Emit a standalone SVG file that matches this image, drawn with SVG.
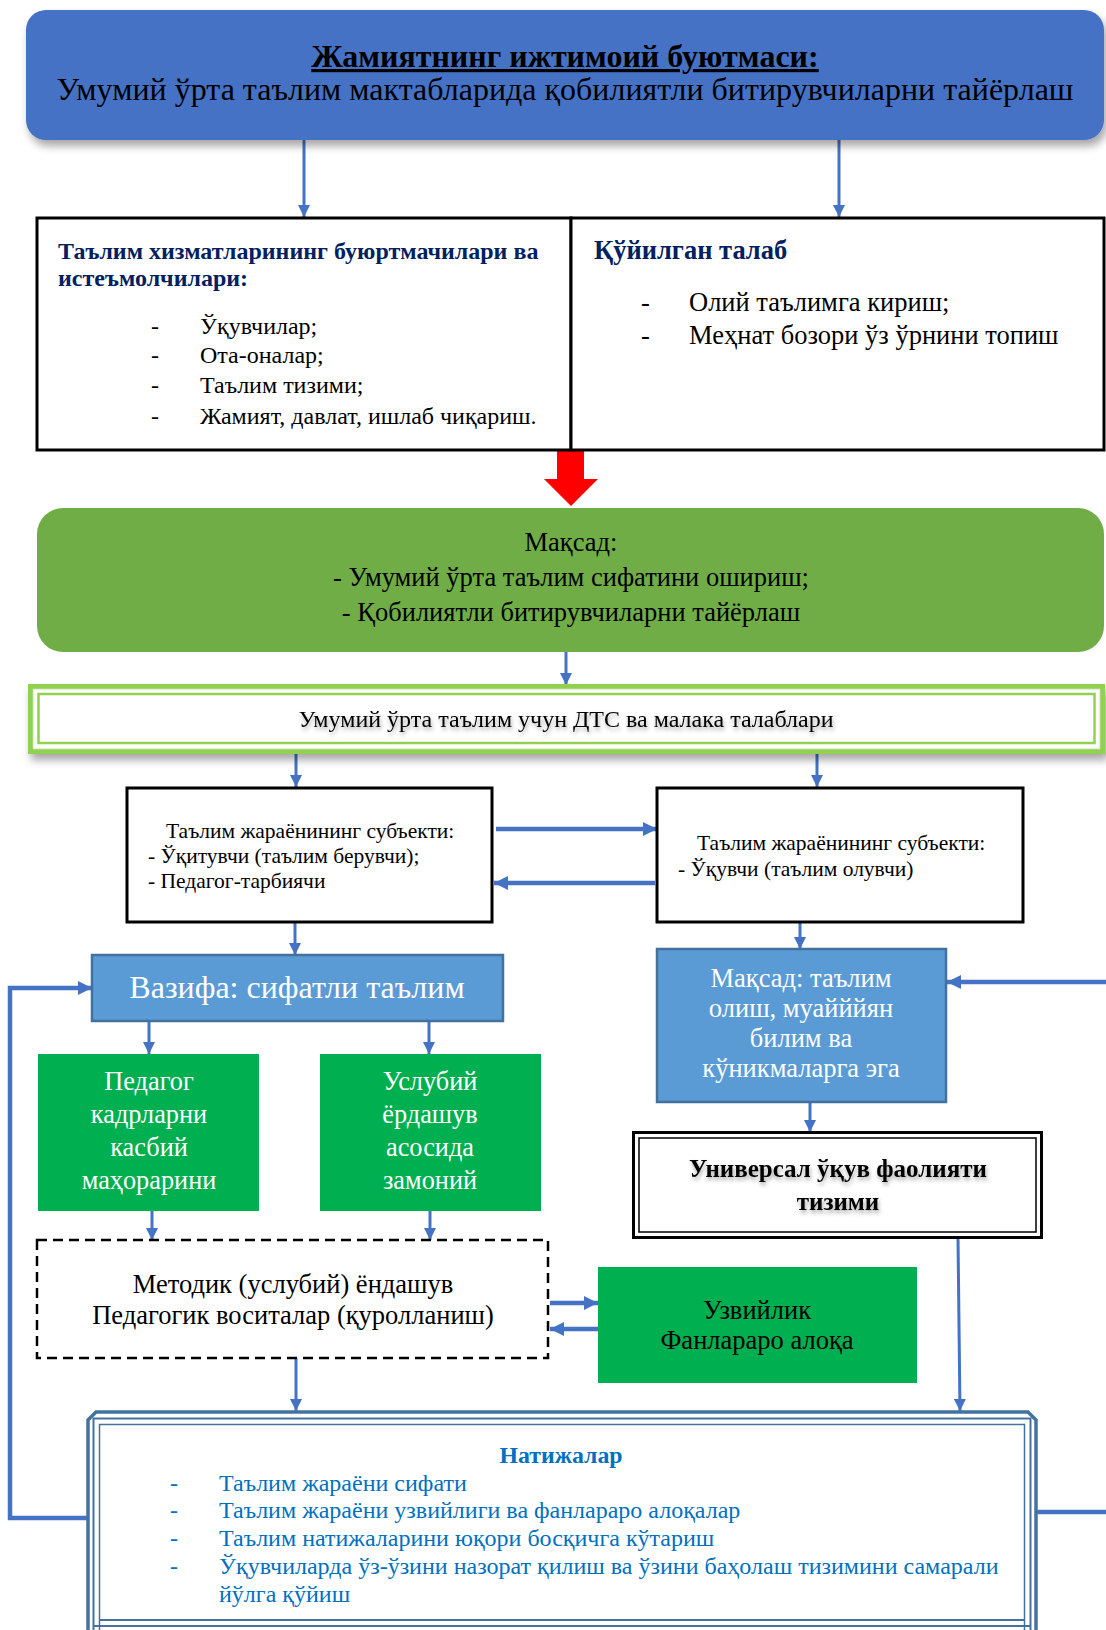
<svg xmlns="http://www.w3.org/2000/svg" width="1106" height="1630" viewBox="0 0 1106 1630">
<defs>
<style>
text{font-family:"Liberation Serif","Times New Roman",serif;}
.c{text-anchor:middle;}
.blk{fill:#000;}
.wht{fill:#fff;}
.navy{fill:#002060;font-weight:bold;}
.res{fill:#0070C0;}
.conn{stroke:#4472C4;stroke-width:3;fill:none;}
.thick{stroke:#4472C4;stroke-width:4.5;fill:none;}
.box{fill:#fff;stroke:#000;stroke-width:3;}
</style>
<marker id="ah" markerUnits="userSpaceOnUse" viewBox="0 0 10 10" refX="10" refY="5" markerWidth="14" markerHeight="12" orient="auto">
<path d="M0,0 L10,5 L0,10 z" fill="#4472C4"/>
</marker>
<marker id="ahb" markerUnits="userSpaceOnUse" viewBox="0 0 10 10" refX="10" refY="5" markerWidth="14" markerHeight="16" orient="auto">
<path d="M0,0 L10,5 L0,10 z" fill="#4472C4"/>
</marker>
<filter id="sh" x="-5%" y="-20%" width="110%" height="150%">
<feDropShadow dx="3" dy="6" stdDeviation="4" flood-color="#000" flood-opacity="0.35"/>
</filter>
<filter id="tsh" x="-5%" y="-30%" width="110%" height="170%">
<feDropShadow dx="1" dy="3" stdDeviation="2" flood-color="#000" flood-opacity="0.35"/>
</filter>
</defs>
<rect width="1106" height="1630" fill="#fff"/>

<g id="connectors">
<line class="conn" x1="304" y1="140" x2="304" y2="217" marker-end="url(#ah)"/>
<line class="conn" x1="839" y1="140" x2="839" y2="217" marker-end="url(#ah)"/>
<polygon points="557,450 584,450 584,479 598,479 571,506 544,479 557,479" fill="#FF0000"/>
<line class="conn" x1="566" y1="652" x2="566" y2="685" marker-end="url(#ah)"/>
<line class="conn" x1="296" y1="753" x2="296" y2="787" marker-end="url(#ah)"/>
<line class="conn" x1="817" y1="753" x2="817" y2="787" marker-end="url(#ah)"/>
<line class="thick" x1="496" y1="829" x2="657" y2="829" marker-end="url(#ahb)"/>
<line class="thick" x1="655" y1="883" x2="494" y2="883" marker-end="url(#ahb)"/>
<line class="conn" x1="295" y1="922" x2="295" y2="955" marker-end="url(#ah)"/>
<line class="conn" x1="800" y1="922" x2="800" y2="949" marker-end="url(#ah)"/>
<line class="conn" x1="149" y1="1021" x2="149" y2="1054" marker-end="url(#ah)"/>
<line class="conn" x1="429" y1="1021" x2="429" y2="1054" marker-end="url(#ah)"/>
<line class="conn" x1="152" y1="1211" x2="152" y2="1240" marker-end="url(#ah)"/>
<line class="conn" x1="430" y1="1211" x2="430" y2="1240" marker-end="url(#ah)"/>
<line class="conn" x1="810" y1="1102" x2="810" y2="1132" marker-end="url(#ah)"/>
<line class="thick" x1="550" y1="1303" x2="598" y2="1303" marker-end="url(#ahb)"/>
<line class="thick" x1="598" y1="1329" x2="550" y2="1329" marker-end="url(#ahb)"/>
<line class="conn" x1="296" y1="1358" x2="296" y2="1411" marker-end="url(#ah)"/>
<line class="conn" x1="958" y1="1238" x2="960" y2="1411" marker-end="url(#ah)"/>
<path class="thick" d="M88,1518 H10 V988 H92" marker-end="url(#ahb)"/>
<path class="thick" d="M1037,1512 H1116 V982 H947" marker-end="url(#ahb)"/>
</g>

<g id="n-social-order">
<rect x="26" y="10" width="1078" height="130" rx="20" fill="#4472C4" filter="url(#sh)"/>
<text x="565" y="67" class="c blk" font-size="32" font-weight="bold" text-decoration="underline">Жамиятнинг ижтимоий буютмаси:</text>
<text x="565" y="100" class="c blk" font-size="32">Умумий ўрта таълим мактабларида қобилиятли битирувчиларни тайёрлаш</text>
</g>

<g id="n-customers">
<rect class="box" x="37" y="218" width="534" height="232"/>
<text x="58" y="259" class="navy" font-size="24">Таълим хизматларининг буюртмачилари ва</text>
<text x="58" y="286" class="navy" font-size="24">истеъмолчилари:</text>
<g class="blk" font-size="24">
<text x="151" y="334">-</text><text x="200" y="334">Ўқувчилар;</text>
<text x="151" y="363">-</text><text x="200" y="363">Ота-оналар;</text>
<text x="151" y="393">-</text><text x="200" y="393">Таълим тизими;</text>
<text x="151" y="424">-</text><text x="200" y="424">Жамият, давлат, ишлаб чиқариш.</text>
</g>
</g>

<g id="n-requirement">
<rect class="box" x="571" y="218" width="533" height="232"/>
<text x="594" y="259" class="navy" font-size="26.5">Қўйилган талаб</text>
<g class="blk" font-size="26.5">
<text x="641" y="311">-</text><text x="689" y="311">Олий таълимга кириш;</text>
<text x="641" y="344">-</text><text x="689" y="344">Меҳнат бозори ўз ўрнини топиш</text>
</g>
</g>

<g id="n-goal">
<rect x="37" y="508" width="1067" height="144" rx="26" fill="#70AD47"/>
<g class="c blk" font-size="26.5">
<text x="571" y="551">Мақсад:</text>
<text x="571" y="586">- Умумий ўрта таълим сифатини ошириш;</text>
<text x="571" y="621">- Қобилиятли битирувчиларни тайёрлаш</text>
</g>
</g>

<g id="n-dts">
<rect x="30.5" y="686.5" width="1072" height="65" fill="#fff" stroke="#92D050" stroke-width="5" filter="url(#sh)"/>
<rect x="33.5" y="689.5" width="1066" height="59" fill="none" stroke="#E2F0D9" stroke-width="1.5"/>
<rect x="38.5" y="694" width="1056" height="49" fill="none" stroke="#92D050" stroke-width="2.5"/>
<text x="566" y="727" class="c blk" font-size="24" filter="url(#tsh)">Умумий ўрта таълим учун ДТС ва малака талаблари</text>
</g>

<g id="n-teacher">
<rect class="box" x="127" y="788" width="365" height="134" stroke-width="2.5"/>
<g class="blk" font-size="21.5">
<text x="166" y="838">Таълим жараёнининг субъекти:</text>
<text x="148" y="863">- Ўқитувчи (таълим берувчи);</text>
<text x="148" y="888">- Педагог-тарбиячи</text>
</g>
</g>

<g id="n-student">
<rect class="box" x="657" y="788" width="366" height="134" stroke-width="2.5"/>
<g class="blk" font-size="21.5">
<text x="697" y="850">Таълим жараёнининг субъекти:</text>
<text x="678" y="876">- Ўқувчи (таълим олувчи)</text>
</g>
</g>

<g id="n-task">
<rect x="92" y="955" width="411" height="66" fill="#5B9BD5" stroke="#41719C" stroke-width="2.5"/>
<text x="297" y="998" class="c wht" font-size="32">Вазифа: сифатли таълим</text>
</g>

<g id="n-student-goal">
<rect x="657" y="949" width="289" height="153" fill="#5B9BD5" stroke="#41719C" stroke-width="2.5"/>
<g class="c wht" font-size="26.5">
<text x="801" y="987">Мақсад: таълим</text>
<text x="801" y="1017">олиш, муайййян</text>
<text x="801" y="1047">билим ва</text>
<text x="801" y="1077">кўникмаларга эга</text>
</g>
</g>

<g id="n-pedagog">
<rect x="38" y="1054" width="221" height="157" fill="#00B050"/>
<g class="c wht" font-size="26.3">
<text x="149" y="1090">Педагог</text>
<text x="149" y="1123">кадрларни</text>
<text x="149" y="1156">касбий</text>
<text x="149" y="1189">маҳорарини</text>
</g>
</g>

<g id="n-method">
<rect x="320" y="1054" width="221" height="157" fill="#00B050"/>
<g class="c wht" font-size="26.3">
<text x="430" y="1090">Услубий</text>
<text x="430" y="1123">ёрдашув</text>
<text x="430" y="1156">асосида</text>
<text x="430" y="1189">замоний</text>
</g>
</g>

<g id="n-universal">
<rect x="633.5" y="1132.5" width="408" height="105" fill="#fff" stroke="#000" stroke-width="3"/>
<rect x="639" y="1138" width="397" height="94" fill="none" stroke="#000" stroke-width="1.5"/>
<g class="c blk" font-size="25" font-weight="bold" filter="url(#tsh)">
<text x="838" y="1177">Универсал ўқув фаолияти</text>
<text x="838" y="1210">тизими</text>
</g>
</g>

<g id="n-approach">
<rect x="37" y="1240" width="511" height="118" fill="#fff" stroke="#000" stroke-width="2.5" stroke-dasharray="10,6"/>
<g class="c blk" font-size="26.5">
<text x="293" y="1293">Методик (услубий) ёндашув</text>
<text x="293" y="1324">Педагогик воситалар (қуролланиш)</text>
</g>
</g>

<g id="n-continuity">
<rect x="598" y="1267" width="319" height="116" fill="#00B050"/>
<g class="c blk" font-size="26.5">
<text x="757" y="1319">Узвийлик</text>
<text x="757" y="1349">Фанлараро алоқа</text>
</g>
</g>

<g id="n-results">
<path d="M88,1640 V1420 L96,1412 H1028 L1036,1420 V1640" fill="#fff" stroke="#44729F" stroke-width="3.5"/>
<path d="M93.5,1640 V1418.5 H1030.5 V1640" fill="none" stroke="#44729F" stroke-width="2"/>
<path d="M99.5,1640 V1424.5 H1024.5 V1640" fill="none" stroke="#44729F" stroke-width="1.5"/>
<path d="M93.5,1626 H1030.5 M99.5,1620 H1024.5" fill="none" stroke="#44729F" stroke-width="2"/>
<text x="561" y="1463" class="c res" font-size="23.8" font-weight="bold">Натижалар</text>
<g class="res" font-size="24">
<text x="170" y="1491">-</text><text x="219" y="1491">Таълим жараёни сифати</text>
<text x="170" y="1518">-</text><text x="219" y="1518">Таълим жараёни узвийлиги ва фанлараро алоқалар</text>
<text x="170" y="1546">-</text><text x="219" y="1546">Таълим натижаларини юқори босқичга кўтариш</text>
<text x="170" y="1574">-</text><text x="219" y="1574">Ўқувчиларда ўз-ўзини назорат қилиш ва ўзини баҳолаш тизимини самарали</text>
<text x="219" y="1602">йўлга қўйиш</text>
</g>
</g>
</svg>
